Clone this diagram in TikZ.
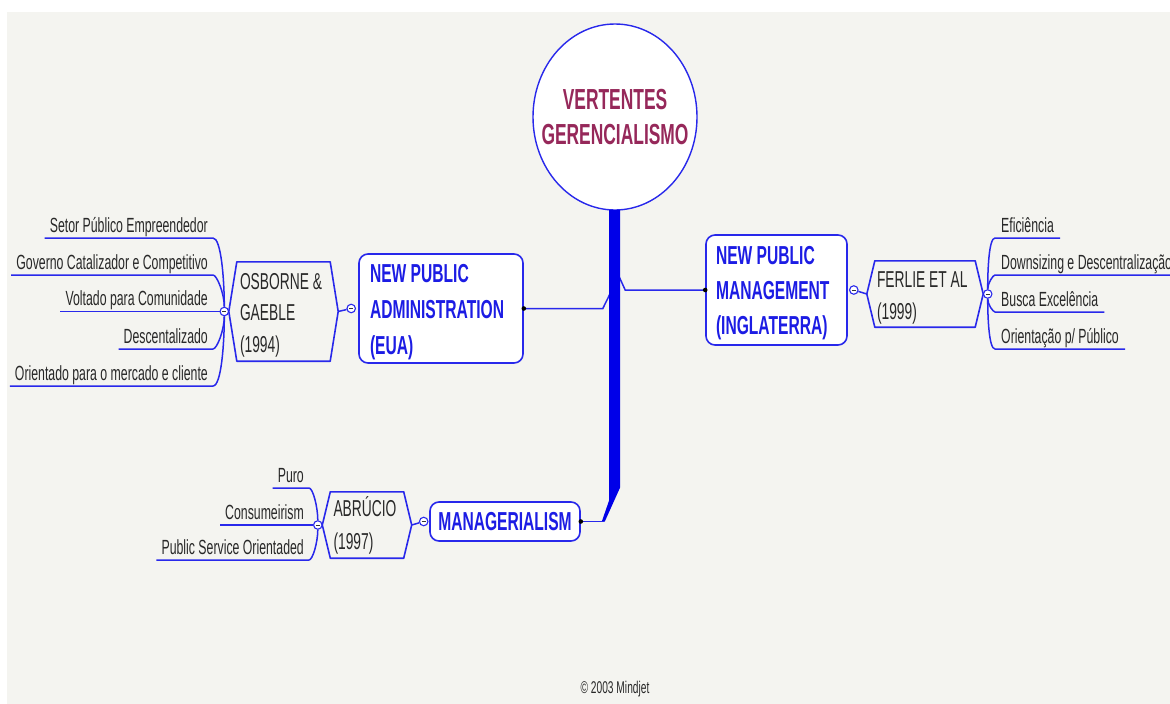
\documentclass[tikz,border=0pt]{standalone}
\usepackage{fontspec}
\setmainfont[FakeStretch=0.6]{Liberation Sans}
\usetikzlibrary{calc,shapes.geometric}

\definecolor{lineblue}{RGB}{40,40,235}
\definecolor{trunkblue}{RGB}{0,0,232}
\definecolor{topicblue}{RGB}{28,28,228}
\definecolor{rootred}{RGB}{150,40,90}
\definecolor{leafgray}{RGB}{40,40,40}
\definecolor{paper}{RGB}{244,244,240}

% outline of a hexagonal subtopic around a rectangular text node
\newcommand{\hexframe}[1]{%
  \draw[hexline] ([xshift=-8pt]#1.west) -- (#1.north west) -- (#1.north east)
    -- ([xshift=8pt]#1.east) -- (#1.south east) -- (#1.south west) -- cycle;}
% invisible strut that lowers a text block a little inside its frame
\newcommand{\toppad}[1]{\rule{0pt}{#1}}

\begin{document}
\begin{tikzpicture}[x=1pt,y=1pt,
  % keep the font's own narrow word space inside multi-line nodes
  fontspace/.style={execute at begin node={\spaceskip=\fontdimen2\font\relax}},
  link/.style={draw=lineblue,line width=1.5pt},
  central/.style={ellipse,draw=lineblue,line width=1.4pt,fill=white,
    minimum width=164pt,minimum height=186pt,inner sep=0pt},
  title/.style={text=rootred,align=center,inner sep=0pt,
    font=\fontsize{29}{35}\selectfont\bfseries},
  topic/.style={draw=lineblue,line width=1.6pt,fill=white,rounded corners=9pt,
    text=topicblue,inner ysep=0pt,fontspace},
  hexnode/.style={inner ysep=0pt,text=leafgray,align=left,
    font=\fontsize{23}{31}\selectfont,fontspace},
  hexline/.style={draw=lineblue,line width=1.6pt,line join=round},
  knob/.style={circle,draw=lineblue,line width=1.1pt,fill=white,
    minimum size=8.5pt,inner sep=0pt,
    path picture={\draw[line width=0.9pt,black!80]
      ([xshift=-2pt]path picture bounding box.center) --
      ([xshift=2pt]path picture bounding box.center);}},
  leaf/.style={text=leafgray,font=\fontsize{20.5}{24}\selectfont,
    inner xsep=5pt,inner ysep=1.5pt,text height=15pt,text depth=4pt},
  leafL/.style={leaf,anchor=south east},
  leafR/.style={leaf,anchor=south west,inner xsep=6pt},
  trunk/.style={fill=trunkblue},
  dot/.style={fill=black}
]
\useasboundingbox (0,0) rectangle (1170,-704);
\fill[white] (0,0) rectangle (1170,-704);
\fill[paper] (7,-12) rectangle (1170,-704);

% central topic: ellipse and its title
\node[central] (c) at (615,-117) {};
\node[title] (ctitle) at (615,-117) {VERTENTES\\GERENCIALISMO};

% main topics
\node[topic,minimum width=164pt,minimum height=109pt,text width=142pt,
  inner xsep=11pt,align=left,font=\fontsize{26}{36}\selectfont\bfseries]
  (npa) at (441,-308.5) {\toppad{25pt}NEW PUBLIC\\ADMINISTRATION\\(EUA)};
\node[topic,minimum width=141pt,minimum height=110pt,text width=121pt,
  inner xsep=10pt,align=left,font=\fontsize{26}{35}\selectfont\bfseries]
  (npm) at (776.5,-290) {\toppad{25pt}NEW PUBLIC\\MANAGEMENT\\(INGLATERRA)};
\node[topic,minimum width=150pt,minimum height=39pt,align=center,
  font=\fontsize{26}{30}\selectfont\bfseries]
  (mgr) at (505,-521.5) {MANAGERIALISM};

% hexagonal subtopics
\node[hexnode,minimum width=93pt,minimum height=99pt,text width=87pt,inner xsep=3pt,
  font=\fontsize{23}{31.5}\selectfont]
  (osb) at (283.5,-311.5) {\toppad{23pt}OSBORNE \&\\GAEBLE\\(1994)};
\node[hexnode,minimum width=100pt,minimum height=66pt,text width=96pt,inner xsep=2pt,
  font=\fontsize{23}{32}\selectfont]
  (fer) at (925,-294) {\toppad{23pt}FERLIE ET AL\\(1999)};
\node[hexnode,minimum width=73pt,minimum height=66pt,text width=67pt,inner xsep=3pt,
  font=\fontsize{23}{33}\selectfont]
  (abr) at (367,-525) {ABRÚCIO\\(1997)};
\hexframe{osb}
\hexframe{fer}
\hexframe{abr}
\coordinate (osbL) at ([xshift=-8pt]osb.west);
\coordinate (osbR) at ([xshift=8pt]osb.east);
\coordinate (ferL) at ([xshift=-8pt]fer.west);
\coordinate (ferR) at ([xshift=8pt]fer.east);
\coordinate (abrL) at ([xshift=-8pt]abr.west);
\coordinate (abrR) at ([xshift=8pt]abr.east);

% collapse knobs
\node[knob] (k1) at ([xshift=-7pt]npa.west) {};
\node[knob] (k2) at ([xshift=-4.5pt]osbL) {};
\node[knob] (k3) at ([xshift=-5.5pt]mgr.west) {};
\node[knob] (k4) at ([xshift=-4.5pt]abrL) {};
\node[knob] (k5) at ([xshift=6pt]npm.east) {};
\node[knob] (k6) at ([xshift=4.5pt]ferR) {};

% leaves of OSBORNE & GAEBLE
\node[leafL] (l1) at (213,-238) {Setor Público Empreendedor};
\node[leafL] (l2) at (213,-275) {Governo Catalizador e Competitivo};
\node[leafL] (l3) at (213,-311.5) {Voltado para Comunidade};
\node[leafL] (l4) at (213,-349) {Descentalizado};
\node[leafL] (l5) at (213,-386) {Orientado para o mercado e cliente};

% leaves of FERLIE ET AL
\node[leafR] (r1) at (995,-238) {Eficiência};
\node[leafR] (r2) at (995,-275) {Downsizing e Descentralização};
\node[leafR] (r3) at (995,-312) {Busca Excelência};
\node[leafR] (r4) at (995,-349) {Orientação p/ Público};

% leaves of ABRÚCIO
\node[leafL] (a1) at (309,-488) {Puro};
\node[leafL] (a2) at (309,-525) {Consumeirism};
\node[leafL] (a3) at (309,-560) {Public Service Orientaded};

% copyright line
\node[text=leafgray,font=\fontsize{17}{20}\selectfont] (cr) at (615,-689) {© 2003 Mindjet};

% underlines of the leaves and their links to the knobs
\draw[link] (l1.south west) -- (l1.south east) to[out=0,in=90,out looseness=0.3] (k2);
\draw[link] (l2.south west) -- (l2.south east) to[out=0,in=90,out looseness=0.3] (k2);
\draw[link] (l3.south west) -- (k2);
\draw[link] (l4.south west) -- (l4.south east) to[out=0,in=-90,out looseness=0.3] (k2);
\draw[link] (l5.south west) -- (l5.south east) to[out=0,in=-90,out looseness=0.3] (k2);

\draw[link] (k6) to[out=90,in=180,in looseness=0.3] (r1.south west) -- (r1.south east);
\draw[link] (k6) to[out=90,in=180,in looseness=0.3] (r2.south west) -- (r2.south east);
\draw[link] (k6) to[out=-90,in=180,in looseness=0.3] (r3.south west) -- (r3.south east);
\draw[link] (k6) to[out=-90,in=180,in looseness=0.3] (r4.south west) -- (r4.south east);

\draw[link] (a1.south west) -- (a1.south east) to[out=0,in=90,out looseness=0.3] (k4);
\draw[link] (a2.south west) -- (k4);
\draw[link] (a3.south west) -- (a3.south east) to[out=0,in=-90,out looseness=0.3] (k4);

% subtopic to topic links
\draw[link] (osbR) -- (k1);
\draw[link] (abrR) -- (k3);
\draw[link] (ferL) -- (k5);

% branches from the trunk
\draw[link] ($(c.south)+(0,-73)$) -- ($(npa.east)+(79,0)$) -- (npa.east);
\draw[link] ($(c.south)+(0,-57)$) -- ($(npm.west)+(-80,0)$) -- (npm.west);

% thick trunk down to MANAGERIALISM
\fill[trunk] ($(c.south)+(-6,0.5)$) -- ($(c.south)+(5,0.5)$) -- ($(c.south)+(5,-277)$)
  -- ($(mgr.east)+(24,0)$) -- ($(mgr.east)+(21,0)$) -- ($(c.south)+(-6,-290)$) -- cycle;
\draw[link] ($(mgr.east)+(23,0)$) -- (mgr.east);

% junction dots
\fill[dot] (npa.east) circle (2.3);
\fill[dot] (npm.west) circle (2.3);
\fill[dot] (mgr.east) circle (2.3);
\end{tikzpicture}
\end{document}
